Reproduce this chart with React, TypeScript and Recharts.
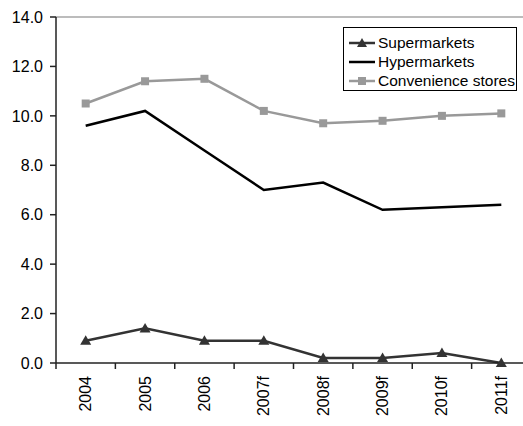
import React from 'react';
import { LineChart, Line, XAxis, YAxis, ReferenceLine } from 'recharts';

const CATEGORIES = ['2004', '2005', '2006', '2007f', '2008f', '2009f', '2010f', '2011f'];
const SUPERMARKETS = [0.9, 1.4, 0.9, 0.9, 0.2, 0.2, 0.4, 0.0];
const HYPERMARKETS = [9.6, 10.2, 8.6, 7.0, 7.3, 6.2, 6.3, 6.4];
const CONVENIENCE = [10.5, 11.4, 11.5, 10.2, 9.7, 9.8, 10.0, 10.1];
const Y_TICKS = [0, 2, 4, 6, 8, 10, 12, 14];

// each category sits in the middle of its slot; slot boundaries carry the tick marks
const data = CATEGORIES.map((label, i) => ({
  label,
  pos: i + 0.5,
  supermarkets: SUPERMARKETS[i],
  hypermarkets: HYPERMARKETS[i],
  convenience: CONVENIENCE[i],
}));
const LABEL_TICKS = data.map((d) => d.pos);
const BOUNDARY_TICKS = CATEGORIES.map((_, i) => i).concat(CATEGORIES.length);

const FONT = '"Liberation Sans", Arial, sans-serif';
const SUPER_COLOR = '#333333';
const HYPER_COLOR = '#000000';
const CONV_COLOR = '#999999';

const TriangleDot = (props: any) => {
  const { cx, cy } = props;
  if (cx == null || cy == null) return null;
  return <path d={`M${cx},${cy - 5.5} L${cx + 5.5},${cy + 4} L${cx - 5.5},${cy + 4} Z`} fill={SUPER_COLOR} />;
};

const SquareDot = (props: any) => {
  const { cx, cy } = props;
  if (cx == null || cy == null) return null;
  return <rect x={cx - 4} y={cy - 4} width={8} height={8} fill={CONV_COLOR} />;
};

const YearTick = (props: any) => {
  const { x, y, payload } = props;
  const idx = LABEL_TICKS.indexOf(payload.value);
  const text = idx >= 0 ? CATEGORIES[idx] : '';
  return (
    <g transform={`translate(${x},${y})`}>
      <text
        transform="rotate(-90)"
        x={0}
        y={0}
        textAnchor="end"
        dominantBaseline="central"
        fontFamily={FONT}
        fontSize={16}
        fill="#000"
      >
        {text}
      </text>
    </g>
  );
};

const LEGEND_ITEMS = [
  { name: 'Supermarkets', color: SUPER_COLOR, marker: 'triangle' },
  { name: 'Hypermarkets', color: HYPER_COLOR, marker: 'none' },
  { name: 'Convenience stores', color: CONV_COLOR, marker: 'square' },
];

const LegendBox = () => (
  <div
    style={{
      position: 'absolute',
      left: 343,
      top: 27,
      width: 172,
      height: 56,
      border: '1px solid #000',
      background: '#fff',
      paddingTop: 6,
      boxSizing: 'content-box',
    }}
  >
    {LEGEND_ITEMS.map((item) => (
      <div key={item.name} style={{ display: 'flex', alignItems: 'center', height: 18.7 }}>
        <svg width={34} height={12} style={{ flex: 'none' }}>
          <line x1={5} y1={6} x2={31} y2={6} stroke={item.color} strokeWidth={2.5} />
          {item.marker === 'triangle' && <path d="M18,1 L23,10 L13,10 Z" fill={item.color} />}
          {item.marker === 'square' && <rect x={14} y={2} width={8} height={8} fill={item.color} />}
        </svg>
        <span style={{ fontFamily: FONT, fontSize: 15.5, color: '#000', lineHeight: '18px', whiteSpace: 'nowrap' }}>
          {item.name}
        </span>
      </div>
    ))}
  </div>
);

export default function App() {
  return (
    <div
      style={{
        position: 'absolute',
        left: 0,
        top: 0,
        width: 523,
        height: 426,
        overflow: 'hidden',
        background: '#fff',
      }}
    >
      <LineChart width={540} height={426} data={data} margin={{ top: 17, right: 9, bottom: 0, left: 0 }}>
        <XAxis
          xAxisId="bounds"
          type="number"
          dataKey="pos"
          domain={[0, CATEGORIES.length]}
          ticks={BOUNDARY_TICKS}
          tickFormatter={() => ''}
          tickSize={6}
          axisLine={{ stroke: '#222', strokeWidth: 1.5 }}
          tickLine={{ stroke: '#222', strokeWidth: 1.5 }}
          height={1}
          interval={0}
          allowDataOverflow
        />
        <XAxis
          xAxisId="labels"
          type="number"
          dataKey="pos"
          domain={[0, CATEGORIES.length]}
          ticks={LABEL_TICKS}
          tick={<YearTick />}
          tickSize={0}
          tickMargin={12}
          axisLine={false}
          tickLine={false}
          height={62}
          interval={0}
          allowDataOverflow
        />
        <YAxis
          type="number"
          domain={[0, 14]}
          ticks={Y_TICKS}
          width={56}
          tickSize={6}
          tickMargin={7}
          tickFormatter={(v: number) => v.toFixed(1)}
          tick={{ fontFamily: FONT, fontSize: 16, fill: '#000' }}
          axisLine={{ stroke: '#222', strokeWidth: 1.5 }}
          tickLine={{ stroke: '#222', strokeWidth: 1.5 }}
          interval={0}
        />
        <ReferenceLine y={14} xAxisId="labels" stroke="#a6a6a6" strokeWidth={1.5} />
        <Line
          xAxisId="labels"
          dataKey="hypermarkets"
          name="Hypermarkets"
          stroke={HYPER_COLOR}
          strokeWidth={2.5}
          dot={false}
          isAnimationActive={false}
        />
        <Line
          xAxisId="labels"
          dataKey="convenience"
          name="Convenience stores"
          stroke={CONV_COLOR}
          strokeWidth={2.5}
          dot={<SquareDot />}
          isAnimationActive={false}
        />
        <Line
          xAxisId="labels"
          dataKey="supermarkets"
          name="Supermarkets"
          stroke={SUPER_COLOR}
          strokeWidth={2.5}
          dot={<TriangleDot />}
          isAnimationActive={false}
        />
      </LineChart>
      <LegendBox />
    </div>
  );
}
